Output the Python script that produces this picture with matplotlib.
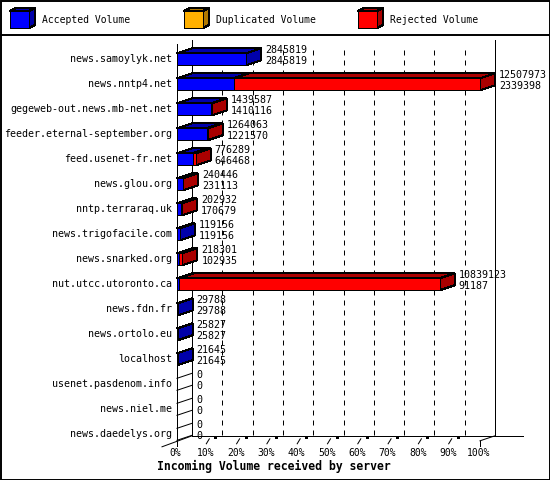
import matplotlib
matplotlib.use('Agg')
import matplotlib.pyplot as plt
from matplotlib.patches import Polygon, Rectangle
from matplotlib.transforms import IdentityTransform
from matplotlib.lines import Line2D

servers = ['news.samoylyk.net', 'news.nntp4.net', 'gegeweb-out.news.mb-net.net',
           'feeder.eternal-september.org', 'feed.usenet-fr.net', 'news.glou.org',
           'nntp.terraraq.uk', 'news.trigofacile.com', 'news.snarked.org',
           'nut.utcc.utoronto.ca', 'news.fdn.fr', 'news.ortolo.eu', 'localhost',
           'usenet.pasdenom.info', 'news.niel.me', 'news.daedelys.org']
total = [2845819, 12507973, 1439587, 1264063, 776289, 240446, 202932, 119156,
         218301, 10839123, 29788, 25827, 21645, 0, 0, 0]
accepted = [2845819, 2339398, 1410116, 1221570, 646468, 231113, 170679, 119156,
            102935, 91187, 29788, 25827, 21645, 0, 0, 0]
duplicated = [0] * len(servers)
legend_labels = ['Accepted Volume', 'Duplicated Volume', 'Rejected Volume']
pct_ticks = [0, 10, 20, 30, 40, 50, 60, 70, 80, 90, 100]
tick_labels = [f'{p}%' for p in pct_ticks]
title = 'Incoming Volume received by server'

W, H = 550, 480
FONT = 'DejaVu Sans Mono'
BLUE, DBLUE = '#0000FF', '#0000AA'
ORANGE, DORANGE = '#FFB000', '#B07800'
RED, DRED = '#FF0000', '#AA0000'
LW = 0.72
DX, DY = 15, 5
HALF = 0.24

fig = plt.figure(figsize=(W / 100, H / 100), dpi=100)
fig.patch.set_facecolor('white')
n = len(servers)
ax = fig.add_axes([177 / W, (H - 446.8) / H, 303 / W, 400 / H])
vmax = max(total)
ax.set_xlim(0, vmax)
ax.set_ylim(n - 0.5, -0.5)
ax.axis('off')
ID = IdentityTransform()


def P(x, y):
    return ax.transData.transform((x, y))


def poly(pts, fc, z=3, ec='black'):
    fig.add_artist(Polygon(pts, closed=True, fc=fc, ec=ec, lw=LW,
                           transform=ID, zorder=z, antialiased=False))


def line(xs, ys, z=2, lw=LW, **kw):
    fig.add_artist(Line2D(xs, ys, color='black', lw=lw, transform=ID,
                          zorder=z, **kw))


def text(x, y, s, **kw):
    fig.text(x, y, s, transform=ID, family=FONT, **kw)


# border and legend separator
fig.add_artist(Rectangle((0.5, 0.5), W - 1, H - 1, fill=False, ec='black',
                         lw=1.4, transform=ID, zorder=10))
line([0, W], [H - 35, H - 35], z=10, lw=1.4)

# legend
leg_x = [10, 184, 358]
leg_cols = [(BLUE, DBLUE), (ORANGE, DORANGE), (RED, DRED)]
for x0, lab, (c, dc) in zip(leg_x, legend_labels, leg_cols):
    yt, yb = H - 11, H - 28
    poly([(x0, yt), (x0 + 19, yt), (x0 + 25, yt + 3), (x0 + 6, yt + 3)], dc)
    poly([(x0 + 19, yb), (x0 + 19, yt), (x0 + 25, yt + 3), (x0 + 25, yb + 3)], dc)
    poly([(x0, yb), (x0 + 19, yb), (x0 + 19, yt), (x0, yt)], c)
    text(x0 + 32, H - 20, lab, fontsize=7.0, ha='left', va='center')

# walls / floor
x_front0 = P(0, 0)[0]
x_front100 = P(vmax, 0)[0]
y_floor_front = ax.transAxes.transform((0, 0))[1] + 6
y_floor_back = y_floor_front + DY
line([x_front0, x_front0], [H - 44, y_floor_front])
line([x_front0 + DX, x_front0 + DX], [H - 40, y_floor_back])
line([x_front100 + DX, x_front100 + DX], [H - 40, y_floor_back])
line([x_front0 + DX, x_front100 + DX + 28], [y_floor_back, y_floor_back])
line([x_front100 + DX, x_front100], [y_floor_back, y_floor_front])
line([x_front0 + DX, x_front0 - DX], [y_floor_back, y_floor_front - DY - 1])

# grid lines and ticks
for p, lab in zip(pct_ticks, tick_labels):
    xf = P(vmax * p / 100, 0)[0]
    if 0 < p < 100:
        line([xf + DX, xf + DX], [H - 50, y_floor_back], z=1,
             linestyle=(0, (5, 5)))
        line([xf - 1, xf + 2], [y_floor_front - 3, y_floor_front + 2])
        fig.add_artist(Rectangle((xf + 7, y_floor_front + 2), 3, 2, fc='black',
                                 ec='none', transform=ID, zorder=2))
    else:
        line([xf, xf], [y_floor_front, y_floor_front - 5])
    text(xf - 1.5, H - 453, lab, fontsize=7.0, ha='center', va='center')

text(274, H - 466, title, fontsize=8.3, fontweight='bold', ha='center',
     va='center')

# bars
for i, (t, a, d) in enumerate(zip(total, accepted, duplicated)):
    segs = [(0, a, BLUE, DBLUE), (a, a + d, ORANGE, DORANGE),
            (a + d, t, RED, DRED)]
    segs = [s for s in segs if s[1] > s[0]]
    ybot = P(0, i + HALF)[1]
    ytop = P(0, i - HALF)[1]
    if t == 0:
        line([x_front0, x_front0 + DX], [ytop, ytop + DY], z=3)
        line([x_front0, x_front0 + DX], [ybot, ybot + DY], z=3)
    else:
        for x0, x1, c, dc in segs:
            px0, px1 = P(x0, i)[0], P(x1, i)[0]
            poly([(px0, ytop), (px1, ytop), (px1 + DX, ytop + DY),
                  (px0 + DX, ytop + DY)], dc)
        xe = P(t, i)[0]
        poly([(xe, ybot), (xe, ytop), (xe + DX, ytop + DY),
              (xe + DX, ybot + DY)], segs[-1][3])
        for x0, x1, c, dc in segs:
            px0, px1 = P(x0, i)[0], P(x1, i)[0]
            poly([(px0, ybot), (px1, ybot), (px1, ytop), (px0, ytop)], c, z=4)
    yc = P(0, i)[1]
    xl = P(t, i)[0] + DX + 4
    text(xl, yc + 9, str(t), fontsize=7.2, ha='left', va='center', zorder=5)
    text(xl, yc - 2, str(a), fontsize=7.2, ha='left', va='center', zorder=5)
    text(x_front0 - 5, yc, servers[i], fontsize=7.2, ha='right', va='center')

fig.savefig('out.png', dpi=100, facecolor='white')
